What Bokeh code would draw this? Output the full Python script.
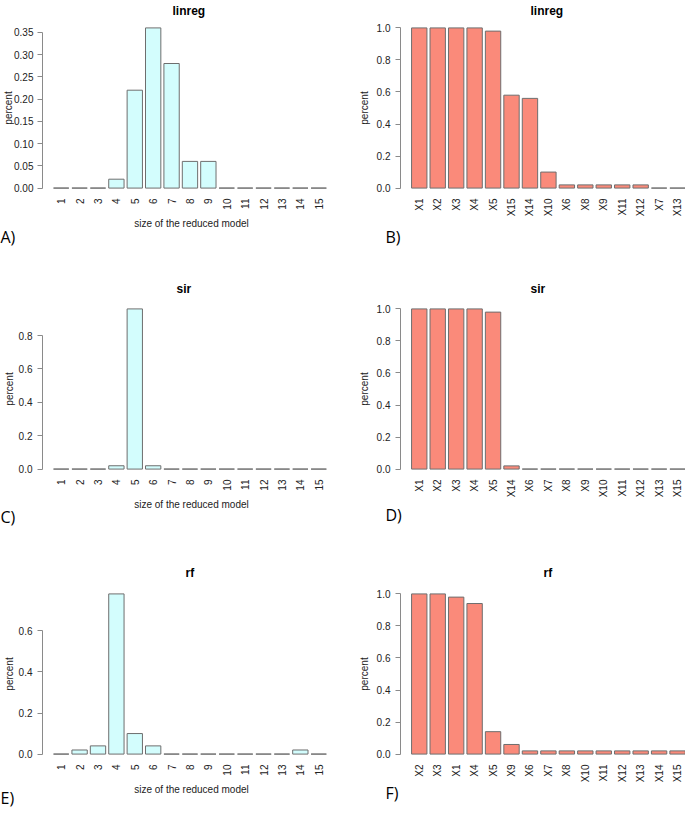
import math
from bokeh.plotting import figure
from bokeh.models import Range1d, FixedTicker, PrintfTickFormatter, ColumnDataSource, Title
from bokeh.layouts import column, row
from bokeh.embed import file_html
from bokeh.resources import INLINE

# ---------------- data ----------------
size_labels = [str(i) for i in range(1, 16)]

linreg_size = [0, 0, 0, 0.02, 0.22, 0.36, 0.28, 0.06, 0.06, 0, 0, 0, 0, 0, 0]
sir_size = [0, 0, 0, 0.02, 0.96, 0.02, 0, 0, 0, 0, 0, 0, 0, 0, 0]
rf_size = [0, 0.02, 0.04, 0.78, 0.10, 0.04, 0, 0, 0, 0, 0, 0, 0, 0.02, 0]

linreg_vars = ["X1", "X2", "X3", "X4", "X5", "X15", "X14", "X10", "X6", "X8", "X9", "X11", "X12", "X7", "X13"]
linreg_freq = [1, 1, 1, 1, 0.98, 0.58, 0.56, 0.10, 0.02, 0.02, 0.02, 0.02, 0.02, 0, 0]

sir_vars = ["X1", "X2", "X3", "X4", "X5", "X14", "X6", "X7", "X8", "X9", "X10", "X11", "X12", "X13", "X15"]
sir_freq = [1, 1, 1, 1, 0.98, 0.02, 0, 0, 0, 0, 0, 0, 0, 0, 0]

rf_vars = ["X2", "X3", "X1", "X4", "X5", "X9", "X6", "X7", "X8", "X10", "X11", "X12", "X13", "X14", "X15"]
rf_freq = [1, 1, 0.98, 0.94, 0.14, 0.06, 0.02, 0.02, 0.02, 0.02, 0.02, 0.02, 0.02, 0.02, 0.02]

linreg_size_ticks = [0, 0.05, 0.10, 0.15, 0.20, 0.25, 0.30, 0.35]
sir_size_ticks = [0, 0.2, 0.4, 0.6, 0.8]
rf_size_ticks = [0, 0.2, 0.4, 0.6]
var_ticks = [0, 0.2, 0.4, 0.6, 0.8, 1.0]

CYAN = "#D3FDFD"
SALMON = "#FA8A7A"
EDGE = "#6e6e6e"
AXIS = "#8a8a8a"
TXT = "#222222"
FONT = "Liberation Sans"


def make_panel(title, labels, values, ticks, fmt, color, left_col, height, top, bottom,
               title_standoff, panel_label, label_standoff, title_off,
               ylab_standoff, ytick_standoff=5, xlabel=None):
    n = len(values)
    bw = 1 / 1.2          # R barplot: width 1, space 0.2
    ymax = max(values)
    yr = Range1d(-0.04 * ymax, 1.04 * ymax)
    if left_col:
        xr = Range1d(-1.0167, n - 1 + 1.1833)
        w, mb_left, mb_right = 342, 42, 2
    else:
        xr = Range1d(-1.0167, n - 1 + 0.43)
        w, mb_left, mb_right = 343, 58, 0
    p = figure(width=w, height=height, x_range=xr, y_range=yr,
               output_backend="svg", toolbar_location=None,
               min_border_left=mb_left, min_border_right=mb_right,
               min_border_top=top, min_border_bottom=bottom)
    p.outline_line_color = None
    p.grid.visible = False
    p.background_fill_color = "white"
    p.border_fill_color = "white"

    src = ColumnDataSource(dict(x=list(range(n)), top=values, lab=labels))
    p.vbar(x="x", top="top", bottom=0, width=bw, source=src,
           fill_color=color, line_color=EDGE, line_width=1)

    # title
    p.title.text = title
    p.title.text_font = FONT
    p.title.text_font_size = "12px"
    p.title.text_font_style = "bold"
    p.title.text_color = "black"
    p.title.align = "left"
    p.title.offset = title_off
    p.title.vertical_align = "top"
    p.title.standoff = title_standoff

    # y axis
    ya = p.yaxis[0]
    ya.ticker = FixedTicker(ticks=ticks)
    ya.formatter = PrintfTickFormatter(format=fmt)
    ya.bounds = (ticks[0], ticks[-1])
    ya.axis_line_color = AXIS
    ya.major_tick_line_color = AXIS
    ya.major_tick_out = 5
    ya.major_tick_in = 0
    ya.minor_tick_line_color = None
    ya.major_label_standoff = ytick_standoff
    ya.major_label_text_font = FONT
    ya.major_label_text_font_size = "10px"
    ya.major_label_text_color = TXT
    ya.axis_label = "percent"
    ya.axis_label_text_font = FONT
    ya.axis_label_text_font_size = "10px"
    ya.axis_label_text_font_style = "normal"
    ya.axis_label_text_color = TXT
    ya.axis_label_standoff = ylab_standoff

    # x axis
    xa = p.xaxis[0]
    xa.ticker = FixedTicker(ticks=list(range(n)))
    xa.major_label_overrides = {i: labels[i] for i in range(n)}
    xa.major_label_orientation = math.pi / 2
    xa.axis_line_color = None
    xa.major_tick_line_color = None
    xa.minor_tick_line_color = None
    xa.major_tick_out = 0
    xa.major_tick_in = 0
    xa.major_label_standoff = 4
    xa.major_label_text_font = FONT
    xa.major_label_text_font_size = "10px"
    xa.major_label_text_color = TXT
    if xlabel:
        xa.axis_label = xlabel
        xa.axis_label_text_font = FONT
        xa.axis_label_text_font_size = "10px"
        xa.axis_label_text_font_style = "normal"
        xa.axis_label_text_color = TXT
        xa.axis_label_standoff = 5

    # panel letter below the axis
    lx = -42 if left_col else -15
    p.add_layout(Title(text=panel_label, align="left", offset=lx,
                       vertical_align="top", standoff=label_standoff,
                       text_font="Open Sans", text_font_size="16px",
                       text_font_style="normal", text_color="black"), "below")
    return p


XL = "size of the reduced model"
# row 1
pA = make_panel("linreg", size_labels, linreg_size, linreg_size_ticks, "%.2f", CYAN, True,
                276, 21, 82, 4, "A)", -12, 130, -3, 4, XL)
pB = make_panel("linreg", linreg_vars, linreg_freq, var_ticks, "%.1f", SALMON, False,
                276, 21, 82, 4, "B)", 13, 130, 4)
# row 2
pC = make_panel("sir", size_labels, sir_size, sir_size_ticks, "%.1f", CYAN, True,
                283, 26, 84, 9, "C)", -14, 134, 1, 5, XL)
pD = make_panel("sir", sir_vars, sir_freq, var_ticks, "%.1f", SALMON, False,
                283, 26, 84, 9, "D)", 6, 130, 4)
# row 3
pE = make_panel("rf", size_labels, rf_size, rf_size_ticks, "%.1f", CYAN, True,
                254, 28, 53, 11, "E)", -22, 143, 1, 5, XL)
pF = make_panel("rf", rf_vars, rf_freq, var_ticks, "%.1f", SALMON, False,
                254, 28, 53, 11, "F)", -8, 143, 4)

layout = column(row(pA, pB, spacing=0), row(pC, pD, spacing=0), row(pE, pF, spacing=0), spacing=0)

open("out.html", "w").write(file_html(layout, INLINE))
